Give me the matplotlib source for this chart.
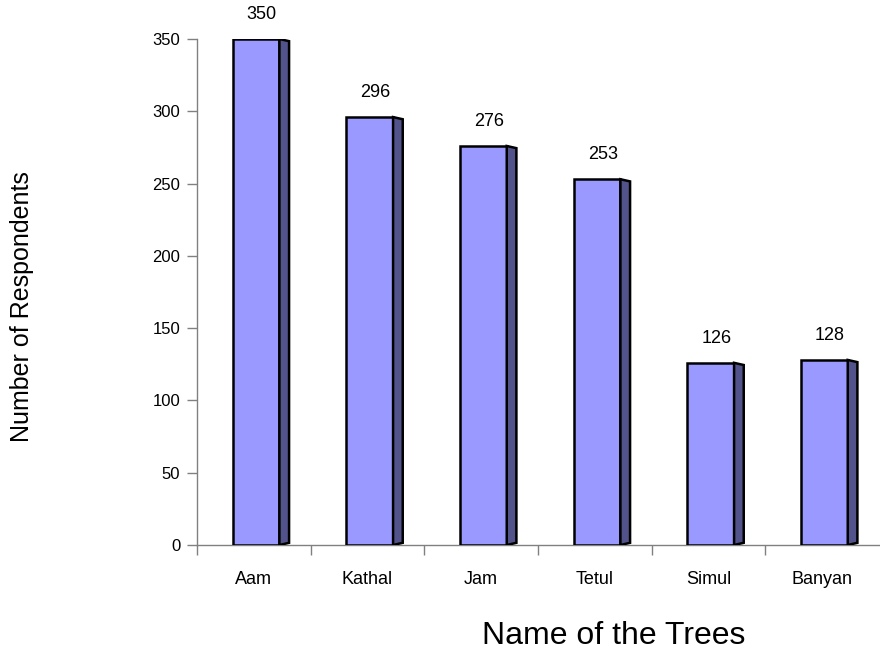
import matplotlib.pyplot as plt
from matplotlib.patches import Polygon, Rectangle

plt.rcParams['font.family'] = ['Liberation Sans', 'DejaVu Sans']

# %% data
trees = ['Aam', 'Kathal', 'Jam', 'Tetul', 'Simul', 'Banyan']
respondents = [350, 296, 276, 253, 126, 128]
y_ticks = [0, 50, 100, 150, 200, 250, 300, 350]

front_col = '#9999FF'
side_col = '#53538C'
axis_col = '#808080'

fig = plt.figure(figsize=(8.8, 6.54), dpi=100)
ax = fig.add_axes([197/880, 109/654, 682/880, 506/654])

w = 0.41    # front face width
d = 0.085   # side depth
tilt = 1.5  # small perspective drop on the side face

for i, val in enumerate(respondents):
    x0 = i + 0.02 - w/2
    x1 = x0 + w
    ax.add_patch(Rectangle((x0, 0), w, val, facecolor=front_col,
                           edgecolor='black', lw=1.8, zorder=3))
    side = [(x1, 0), (x1 + d, tilt), (x1 + d, val - tilt), (x1, val)]
    ax.add_patch(Polygon(side, closed=True, facecolor=side_col,
                         edgecolor='black', lw=1.8, zorder=3))
    ax.text(i + 0.07, val + 11, str(val), ha='center', va='bottom',
            fontsize=13, zorder=4)

ax.set_xlim(-0.5, len(trees) - 0.5)
ax.set_ylim(0, 350)

ax.spines['top'].set_visible(False)
ax.spines['right'].set_visible(False)
for s in ['left', 'bottom']:
    ax.spines[s].set_color(axis_col)
    ax.spines[s].set_linewidth(1)

ax.set_yticks(y_ticks)
ax.tick_params(axis='y', direction='out', length=7, width=1,
               color=axis_col, labelsize=12, pad=5)

# tick marks between categories, labels at centres
ax.set_xticks([i - 0.5 for i in range(len(trees))])
ax.set_xticklabels([])
ax.set_xticks(range(len(trees)), minor=True)
ax.set_xticklabels(trees, minor=True)
ax.tick_params(axis='x', which='major', direction='out', length=7,
               width=1, color=axis_col)
ax.tick_params(axis='x', which='minor', length=0, labelsize=13, pad=19)

fig.text(0.025, 0.532, 'Number of Respondents', rotation=90,
         ha='center', va='center', fontsize=18)
fig.text(0.697, 0.0275, 'Name of the Trees', ha='center', va='center',
         fontsize=23)

fig.savefig('out.png', dpi=100)
